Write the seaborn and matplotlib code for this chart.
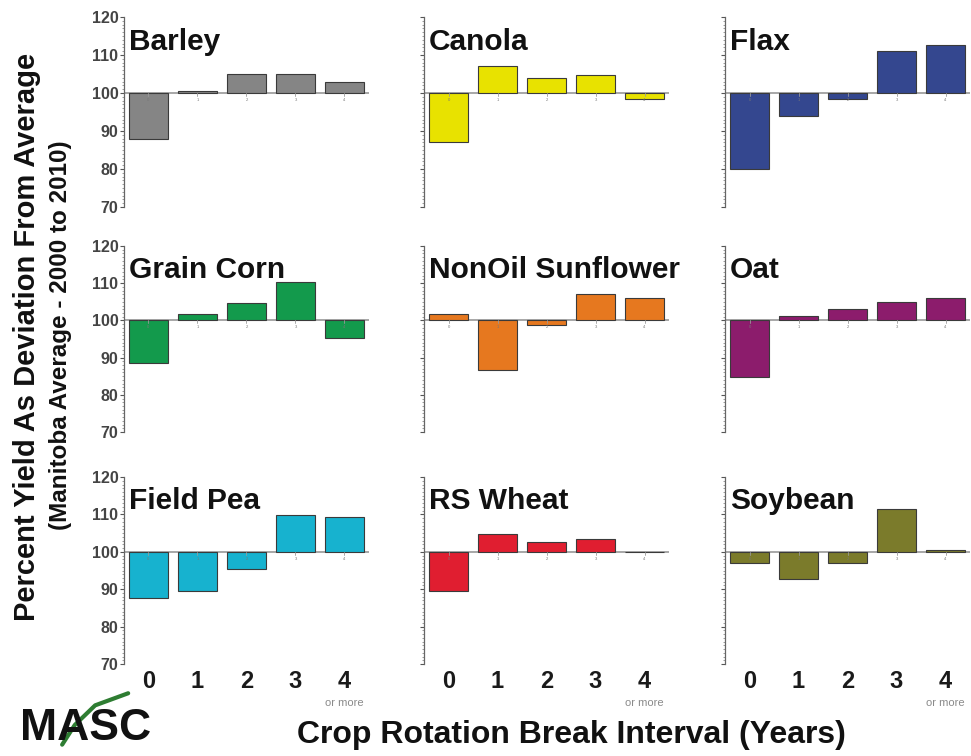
import numpy as np
import pandas as pd
import matplotlib.pyplot as plt
from matplotlib.lines import Line2D
from matplotlib.ticker import MultipleLocator
import seaborn as sns

# break interval categories (years)
intervals = ["0", "1", "2", "3", "4"]

# crop panels, read row by row
crops = ["Barley", "Canola", "Flax",
         "Grain Corn", "NonOil Sunflower", "Oat",
         "Field Pea", "RS Wheat", "Soybean"]

barley = [88, 100.5, 105, 105, 103]
canola = [87, 107, 104, 104.7, 98.4]
flax = [80, 94, 98.5, 111, 112.7]
grain_corn = [88.5, 101.8, 104.6, 110.2, 95.4]
sunflower = [101.6, 86.6, 98.8, 107.2, 105.9]
oat = [84.7, 101.3, 103, 105, 106]
field_pea = [87.7, 89.6, 95.4, 109.9, 109.4]
rs_wheat = [89.6, 104.8, 102.5, 103.5, 100]
soybean = [97.1, 92.8, 97.1, 111.5, 100.5]

crop_values = [barley, canola, flax, grain_corn, sunflower, oat,
               field_pea, rs_wheat, soybean]

crop_colors = ["#858585", "#e8e200", "#34478f",
               "#139a4c", "#e6781f", "#8c1c6c",
               "#17b2cf", "#e01e30", "#7b7b2b"]

sns.set_style("white")
plt.rcParams["font.family"] = ["Liberation Sans", "DejaVu Sans"]

fig = plt.figure(figsize=(9.71, 7.56), dpi=100)

col_left = [0.1277, 0.4367, 0.7467]
row_bottom = [0.7262, 0.4286, 0.1217]
ax_w = 0.2523
ax_h = [0.2513, 0.246, 0.2473]

for i, crop in enumerate(crops):
    r, c = divmod(i, 3)
    ax = fig.add_axes([col_left[c], row_bottom[r], ax_w, ax_h[r]])
    df = pd.DataFrame({"interval": intervals, "yield": crop_values[i]})
    df["height"] = df["yield"] - 100
    sns.barplot(data=df, x="interval", y="height", color=crop_colors[i],
                width=0.8, bottom=100, edgecolor="#3a3a3a", linewidth=0.8,
                saturation=1, ax=ax)
    ax.axhline(100, color="#a0a0a0", lw=1.3, zorder=0)
    for k in range(len(intervals)):
        ax.plot([k, k], [100, 99.2], color="#9a9a9a", lw=0.6, zorder=3)
        ax.text(k, 98.2, intervals[k], fontsize=3, color="#777777",
                ha="center", va="center", zorder=3)
    ax.set_xlim(-0.5, 4.5)
    ax.set_ylim(70, 120)
    ax.yaxis.set_major_locator(MultipleLocator(10))
    ax.yaxis.set_minor_locator(MultipleLocator(1))
    ax.tick_params(axis="y", which="major", direction="out", length=3,
                   width=0.8, color="#555555", left=True, pad=1)
    ax.tick_params(axis="y", which="minor", direction="out", length=1.5,
                   width=0.5, color="#777777", left=True)
    for side in ["top", "right", "bottom"]:
        ax.spines[side].set_visible(False)
    ax.spines["left"].set_color("#666666")
    ax.spines["left"].set_linewidth(0.9)
    ax.set_xlabel("")
    ax.set_ylabel("")
    if c == 0:
        ax.set_yticks([70, 80, 90, 100, 110, 120])
        ax.set_yticklabels(["70", "80", "90", "100", "110", "120"],
                           fontsize=11.5, fontweight="bold", color="#444444")
    else:
        ax.set_yticklabels([])
    ax.tick_params(axis="x", bottom=False)
    if r == 2:
        ax.set_xticks(range(len(intervals)))
        ax.set_xticklabels(intervals, fontsize=17, fontweight="bold",
                           color="#1a1a1a")
        ax.tick_params(axis="x", pad=1)
        ax.text(4, 59.6, "or more", fontsize=8, color="#8a8a8a",
                ha="center", va="center", clip_on=False)
    else:
        ax.set_xticklabels([])
    ax.text(0.02, 0.87, crop, transform=ax.transAxes, fontsize=21.5,
            fontweight="bold", ha="left", va="center", color="#111111")

fig.text(0.028, 0.554, "Percent Yield As Deviation From Average",
         rotation=90, fontsize=21, fontweight="bold", ha="center", va="center",
         color="#111111")
fig.text(0.062, 0.557, "(Manitoba Average - 2000 to 2010)",
         rotation=90, fontsize=17.5, fontweight="bold", ha="center", va="center",
         color="#111111")
fig.text(0.589, 0.028, "Crop Rotation Break Interval (Years)",
         fontsize=23, fontweight="bold", ha="center", va="center",
         color="#111111")

# MASC logo
fig.text(0.088, 0.036, "MASC", fontsize=32, fontweight="bold",
         ha="center", va="center", color="#111111")
fig.add_artist(Line2D([0.064, 0.077, 0.098, 0.132],
                      [0.015, 0.041, 0.067, 0.083],
                      color="#2e7d32", lw=3, solid_capstyle="round"))

fig.savefig("out.png", dpi=100)
